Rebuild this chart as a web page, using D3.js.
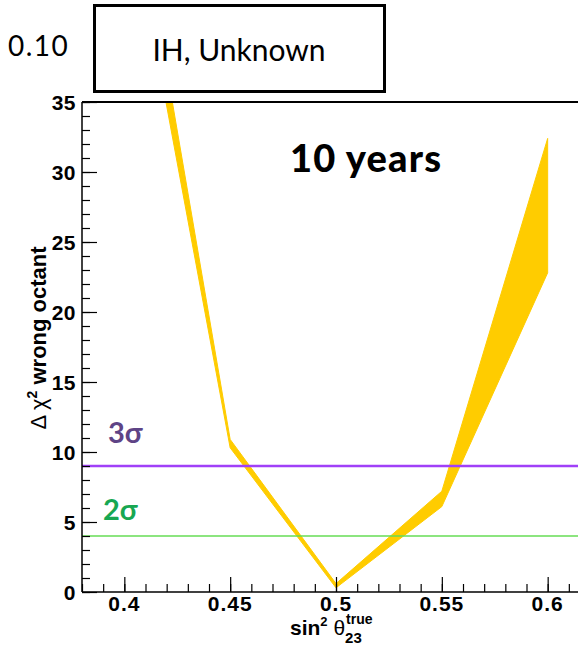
<!DOCTYPE html>
<html>
<head>
<meta charset="utf-8">
<script src="https://cdn.jsdelivr.net/npm/d3@7"></script>
<style>
  html, body { margin: 0; padding: 0; background: #fff; }
  svg { display: block; }
</style>
</head>
<body>
<svg id="chart" width="578" height="649"></svg>
<script>
// sin^2(theta23) true values and the band of Delta chi^2 (wrong octant)
const sin2Theta = [0.40, 0.45, 0.50, 0.55, 0.60];
const chi2Upper = [55.0, 10.9, 0.6, 7.2, 32.4];
const chi2Lower = [51.0, 10.3, 0.3, 6.1, 22.8];

// Significance reference levels
const sigmaLabels = ["3σ", "2σ"];
const sigmaValues = [9, 4];

const xTicks = [0.4, 0.45, 0.5, 0.55, 0.6];
const yTicks = [0, 5, 10, 15, 20, 25, 30, 35];

(function draw() {
  const svg = d3.select("#chart");
  const W = 578;
  const plotLeft = 82, plotTop = 102, plotBottom = 592;

  const x = d3.scaleLinear().domain([0.38, 0.62]).range([plotLeft, 590]);
  const y = d3.scaleLinear().domain([0, 35]).range([plotBottom, plotTop]);

  svg.append("defs").append("clipPath").attr("id", "plot-clip")
    .append("rect").attr("x", plotLeft).attr("y", plotTop)
    .attr("width", W - plotLeft).attr("height", plotBottom - plotTop);

  const plot = svg.append("g").attr("clip-path", "url(#plot-clip)");

  // Yellow band between lower and upper curves
  const bandData = sin2Theta.map((s, i) => ({ s, lo: chi2Lower[i], hi: chi2Upper[i] }));
  plot.append("path")
    .datum(bandData)
    .attr("fill", "#ffcc00")
    .attr("stroke", "#ffcc00")
    .attr("stroke-width", 1)
    .attr("d", d3.area().x(d => x(d.s)).y0(d => y(d.lo)).y1(d => y(d.hi)));

  // Sigma lines
  const sigmaColors = ["#a040f8", "#66dd55"];
  const sigmaWidths = [2.5, 1.6];
  sigmaValues.forEach((v, i) => {
    plot.append("line")
      .attr("x1", plotLeft).attr("x2", W)
      .attr("y1", y(v)).attr("y2", y(v))
      .attr("stroke", sigmaColors[i]).attr("stroke-width", sigmaWidths[i]);
  });

  // Axes with ticks drawn inward
  const axisFont = "'Liberation Sans', Arial, sans-serif";

  const yAxisMinor = d3.axisRight(y).tickValues(d3.range(0, 36, 1)).tickSize(8).tickFormat("");
  const yAxisMajor = d3.axisRight(y).tickValues(yTicks).tickSize(15).tickFormat("");
  [yAxisMinor, yAxisMajor].forEach(ax => {
    const g = svg.append("g").attr("transform", `translate(${plotLeft},0)`).call(ax);
    g.select(".domain").remove();
    g.selectAll("line").attr("stroke", "#000").attr("stroke-width", 1.2);
  });

  const xAxisMinor = d3.axisTop(x).tickValues(d3.range(38, 63, 1).map(v => v / 100)).tickSize(8).tickFormat("");
  const xAxisMajor = d3.axisTop(x).tickValues(xTicks).tickSize(15).tickFormat("");
  [xAxisMinor, xAxisMajor].forEach(ax => {
    const g = svg.append("g").attr("transform", `translate(0,${plotBottom})`).call(ax);
    g.select(".domain").remove();
    g.selectAll("line").attr("stroke", "#000").attr("stroke-width", 1.2);
  });

  // Frame lines
  svg.append("line").attr("x1", plotLeft).attr("x2", plotLeft).attr("y1", plotTop).attr("y2", plotBottom)
    .attr("stroke", "#000").attr("stroke-width", 1.5);
  svg.append("line").attr("x1", plotLeft).attr("x2", W).attr("y1", plotBottom).attr("y2", plotBottom)
    .attr("stroke", "#000").attr("stroke-width", 1.5);
  svg.append("line").attr("x1", plotLeft).attr("x2", W).attr("y1", plotTop).attr("y2", plotTop)
    .attr("stroke", "#000").attr("stroke-width", 2);

  // Tick labels
  svg.append("g").selectAll("text").data(yTicks).join("text")
    .attr("x", 76).attr("y", d => y(d)).attr("dy", "0.36em")
    .attr("text-anchor", "end")
    .attr("font-family", axisFont).attr("font-weight", "bold").attr("font-size", 21)
    .attr("letter-spacing", 0.5)
    .text(d => d);

  svg.append("g").selectAll("text").data(xTicks).join("text")
    .attr("x", d => x(d)).attr("y", 611)
    .attr("text-anchor", "middle")
    .attr("font-family", axisFont).attr("font-weight", "bold").attr("font-size", 21)
    .attr("letter-spacing", 1)
    .text(d => d3.format("~g")(d));

  // Y axis title
  const yTitle = svg.append("text")
    .attr("transform", "translate(46,338) rotate(-90)")
    .attr("text-anchor", "middle")
    .attr("font-family", axisFont).attr("font-weight", "bold").attr("font-size", 22);
  yTitle.append("tspan").attr("font-weight", "normal").text("Δ χ");
  yTitle.append("tspan").attr("font-size", 14).attr("dy", -9).text("2");
  yTitle.append("tspan").attr("dy", 9).text(" wrong octant");

  // X axis title: sin^2 theta_23^true
  const xTitle = svg.append("text")
    .attr("x", 290).attr("y", 635)
    .attr("font-family", axisFont).attr("font-weight", "bold").attr("font-size", 21);
  xTitle.append("tspan").text("sin");
  xTitle.append("tspan").attr("font-size", 13).attr("dy", -9).text("2");
  xTitle.append("tspan").attr("dy", 9).attr("font-weight", "normal").text(" θ");
  xTitle.append("tspan").attr("font-size", 15).attr("dy", 8).text("23");
  const subStart = xTitle.node().getStartPositionOfChar("sin2 θ".length).x;
  svg.append("text")
    .attr("x", subStart + 1).attr("y", 624)
    .attr("font-family", axisFont).attr("font-weight", "bold").attr("font-size", 14)
    .text("true");

  // Sigma labels
  const sigmaTextColors = ["#5e4486", "#17a752"];
  const sigmaLabelPos = [[108, 443], [103, 520]];
  sigmaLabels.forEach((t, i) => {
    svg.append("text")
      .attr("x", sigmaLabelPos[i][0]).attr("y", sigmaLabelPos[i][1])
      .attr("fill", sigmaTextColors[i])
      .attr("font-family", "Lato, 'Open Sans', sans-serif").attr("font-weight", "bold")
      .attr("font-size", 29)
      .text(t);
  });

  // Exposure label
  svg.append("text")
    .attr("x", 290).attr("y", 172)
    .attr("font-family", "Lato, 'Open Sans', sans-serif").attr("font-weight", 900)
    .attr("font-size", 38)
    .attr("letter-spacing", 1.2)
    .text("10 years");

  // Header: value and scenario box
  svg.append("text")
    .attr("x", 8).attr("y", 56)
    .attr("font-family", "Lato, 'Open Sans', sans-serif")
    .attr("font-size", 28)
    .attr("letter-spacing", 1.5)
    .text("0.10");

  svg.append("rect")
    .attr("x", 94.5).attr("y", 5.5).attr("width", 290).attr("height", 86)
    .attr("fill", "#fff").attr("stroke", "#000").attr("stroke-width", 3);
  svg.append("text")
    .attr("x", 239).attr("y", 61)
    .attr("text-anchor", "middle")
    .attr("font-family", "Lato, 'Open Sans', sans-serif")
    .attr("font-size", 30)
    .text("IH, Unknown");
})();
</script>
</body>
</html>
